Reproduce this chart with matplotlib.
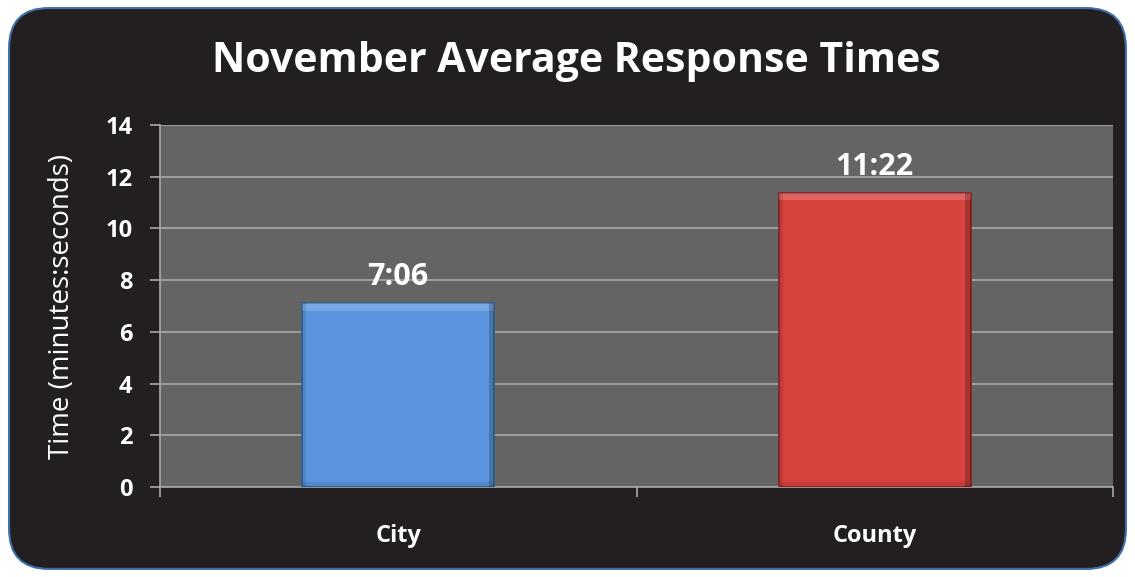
import matplotlib
matplotlib.use("Agg")
import matplotlib.pyplot as plt
from matplotlib.patches import FancyBboxPatch, Rectangle
import numpy as np

categories = ["City", "County"]
values = [7.1, 11 + 22/60]
labels = ["7:06", "11:22"]
colors = ["#5A95DD", "#D7423F"]
edge_colors = ["#2F5F93", "#8E2321"]
yticks = [0, 2, 4, 6, 8, 10, 12, 14]

FONT = "Open Sans"
plt.rcParams["font.family"] = [FONT, "DejaVu Sans"]

fig = plt.figure(figsize=(11.35, 5.77), dpi=100)
fig.patch.set_facecolor("white")

# rounded dark background panel
bg = FancyBboxPatch((0.008, 0.014), 0.984, 0.972,
                    boxstyle="round,pad=0,rounding_size=0.035",
                    transform=fig.transFigure, facecolor="#231F20",
                    edgecolor="#3F6FA8", linewidth=1.5, zorder=-10,
                    mutation_aspect=1135/577)
fig.patches.append(bg)

ax = fig.add_axes([160/1135, 1 - 487/577, (1113 - 160)/1135, (487 - 125)/577])
ax.set_zorder(1)
ax.set_facecolor("#646464")
x = np.arange(len(categories))
width = 0.403
bars = ax.bar(x, values, width=width, color=colors, edgecolor=edge_colors,
              linewidth=1.2, zorder=3)

# bevel highlight at top of each bar, derived from bar geometry
for b, c in zip(bars, colors):
    h = b.get_height()
    x0 = b.get_x()
    w = b.get_width()
    band = 0.28
    ax.add_patch(Rectangle((x0, h - band), w, band, facecolor="white",
                           alpha=0.18, edgecolor="none", zorder=4))
    ax.add_patch(Rectangle((x0 + w - 0.012, 0), 0.012, h, facecolor="black",
                           alpha=0.22, edgecolor="none", zorder=4))
    ax.add_patch(Rectangle((x0, 0), 0.008, h, facecolor="black",
                           alpha=0.10, edgecolor="none", zorder=4))
    ax.add_patch(Rectangle((x0, 0), w, 0.18, facecolor="black",
                           alpha=0.08, edgecolor="none", zorder=4))

for xi, v, lab in zip(x, values, labels):
    ax.annotate(lab, (xi, v), xytext=(0, 13), textcoords="offset points",
                ha="center", va="baseline", color="white", fontsize=22,
                fontweight="bold")

ax.set_xlim(-0.5, 1.5)
ax.set_ylim(0, 14)
ax.set_yticks(yticks)
ax.set_yticklabels([str(t) for t in yticks], fontsize=17, fontweight="bold",
                   color="white")
ax.yaxis.grid(True, color="#A8A8A8", linewidth=1.2, zorder=1)
ax.set_axisbelow(True)

ax.set_xticks([-0.5, 0.5, 1.5])
ax.set_xticklabels([])
ax.set_xticks(x, minor=True)
ax.set_xticklabels(categories, minor=True, fontsize=17, fontweight="bold",
                   color="white")
ax.tick_params(axis="x", which="minor", length=0, pad=27)
ax.tick_params(axis="x", which="major", length=7, color="#A8A8A8", width=1.2)
ax.tick_params(axis="y", length=7, color="#A8A8A8", width=1.2, pad=13)

for s in ["top", "right"]:
    ax.spines[s].set_visible(False)
for s in ["left", "bottom"]:
    ax.spines[s].set_color("#A8A8A8")
    ax.spines[s].set_linewidth(1.2)

ax.set_ylabel("Time (minutes:seconds)", color="white", fontsize=20)
ax.yaxis.set_label_coords(-0.1028, 0.5)
ax.yaxis.label.set_va("center")

fig.text(576/1135, 1 - 62/577, "November Average Response Times", ha="center",
         va="center", color="white", fontsize=29.5, fontweight="bold")

fig.savefig("out.png", dpi=100, facecolor=fig.get_facecolor())
